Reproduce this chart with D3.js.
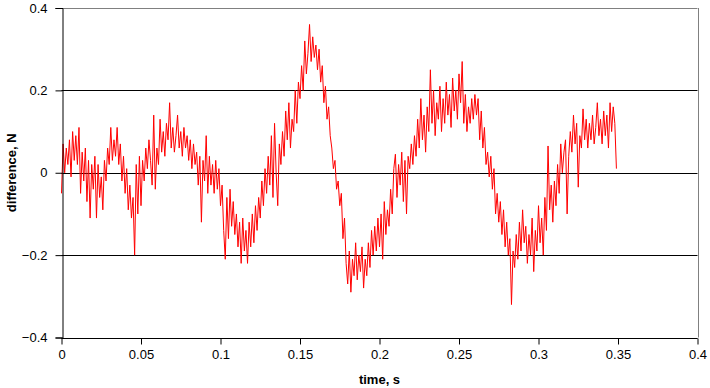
<!DOCTYPE html>
<html>
<head>
<meta charset="utf-8">
<script src="https://cdn.jsdelivr.net/npm/d3@7"></script>
<style>
  body { margin: 0; background: #fff; }
  text { font-family: "Liberation Sans", Arial, sans-serif; }
</style>
</head>
<body>
<div id="chart"></div>
<script>
const sampleStep = 0.001;
const diffValues = [
  -0.05, 0.07, 0.00, 0.06, 0.02, 0.08, -0.01, 0.10, 0.03, 0.09,
  0.02, 0.11, -0.05, 0.05, -0.02, 0.06, -0.07, 0.03, -0.11, 0.02,
  -0.04, 0.04, -0.11, 0.02, -0.06, -0.01, -0.09, 0.03, -0.02, 0.06,
  0.02, 0.11, 0.03, 0.08, 0.04, 0.11, 0.02, 0.07, -0.02, 0.04,
  -0.05, 0.01, -0.09, -0.03, -0.11, -0.06, -0.20, 0.02, -0.10, 0.04,
  -0.08, 0.03, -0.02, 0.06, 0.01, 0.08, 0.03, -0.03, 0.14, -0.04,
  0.06, 0.02, 0.13, 0.05, 0.10, 0.04, 0.12, 0.08, 0.17, 0.06,
  0.11, 0.05, 0.09, 0.14, 0.06, 0.10, 0.04, 0.11, 0.06, 0.09,
  0.03, 0.08, 0.01, 0.07, 0.02, 0.05, -0.03, 0.04, -0.12, 0.03,
  -0.02, 0.09, -0.05, 0.04, -0.03, 0.02, -0.05, 0.03, -0.04, 0.01,
  -0.08, -0.03, -0.14, -0.21, -0.06, -0.16, -0.04, -0.13, -0.07, -0.15,
  -0.10, -0.18, -0.12, -0.22, -0.11, -0.19, -0.14, -0.22, -0.12, -0.18,
  -0.10, -0.17, -0.08, -0.14, -0.06, -0.11, -0.02, -0.08, 0.01, -0.05,
  0.04, -0.03, 0.09, -0.06, 0.12, 0.00, -0.08, 0.07, 0.02, 0.10,
  0.04, 0.15, 0.08, 0.17, 0.06, 0.13, 0.10, 0.20, 0.12, 0.22,
  0.18, 0.26, 0.20, 0.32, 0.24, 0.29, 0.36, 0.27, 0.33, 0.28,
  0.31, 0.25, 0.30, 0.22, 0.26, 0.17, 0.21, 0.13, 0.16, 0.09,
  0.06, 0.01, 0.03, -0.04, -0.02, -0.08, -0.05, -0.16, -0.11, -0.22,
  -0.27, -0.19, -0.29, -0.21, -0.25, -0.17, -0.26, -0.20, -0.24, -0.18,
  -0.28, -0.21, -0.25, -0.17, -0.23, -0.14, -0.20, -0.13, -0.19, -0.11,
  -0.18, -0.10, -0.21, -0.07, -0.15, -0.09, -0.13, -0.04, -0.10, 0.01,
  0.045, -0.06, 0.02, -0.03, 0.05, -0.07, 0.03, -0.10, 0.04, 0.01,
  0.07, 0.02, 0.09, 0.04, 0.13, 0.06, 0.18, 0.08, 0.14, 0.05,
  0.16, 0.10, 0.25, 0.12, 0.20, 0.09, 0.17, 0.13, 0.21, 0.10,
  0.18, 0.12, 0.22, 0.14, 0.19, 0.11, 0.23, 0.15, 0.20, 0.13,
  0.24, 0.17, 0.27, 0.12, 0.19, 0.10, 0.16, 0.12, 0.18, 0.13,
  0.19, 0.14, 0.18, 0.08, 0.15, 0.06, 0.11, 0.02, 0.05, -0.01,
  0.04, -0.04, 0.01, -0.10, -0.05, -0.12, -0.07, -0.15, -0.09, -0.18,
  -0.12, -0.20, -0.16, -0.32, -0.19, -0.23, -0.15, -0.21, -0.12, -0.19,
  -0.09, -0.17, -0.13, -0.22, -0.15, -0.20, -0.11, -0.24, -0.14, -0.19,
  -0.08, -0.17, -0.11, -0.20, -0.06, -0.14, 0.065, -0.09, -0.03, -0.12,
  -0.02, -0.08, 0.02, -0.05, 0.07, 0.00, 0.05, 0.08, -0.10, 0.04,
  0.10, 0.05, 0.14, 0.07, 0.12, -0.035, 0.09, 0.06, 0.155, 0.08,
  0.13, 0.06, 0.12, 0.08, 0.14, 0.07, 0.11, 0.17, 0.09, 0.13,
  0.07, 0.15, 0.09, 0.14, 0.06, 0.17, 0.10, 0.16, 0.12, 0.01
];

const xTicks = [0, 0.05, 0.1, 0.15, 0.2, 0.25, 0.3, 0.35, 0.4];
const yTicks = [-0.4, -0.2, 0, 0.2, 0.4];
const xTitle = 'time, s';
const yTitle = 'difference, N';

const width = 710, height = 388;
const margin = { top: 8, right: 12.5, bottom: 50.5, left: 61.5 };

const svg = d3.select('#chart').append('svg')
    .attr('width', width)
    .attr('height', height);

const x = d3.scaleLinear().domain([0, 0.4]).range([margin.left, width - margin.right]);
const y = d3.scaleLinear().domain([-0.4, 0.4]).range([height - margin.bottom, margin.top]);

// Horizontal grid lines
svg.append('g')
    .selectAll('line')
    .data(yTicks)
    .enter().append('line')
    .attr('x1', margin.left)
    .attr('x2', width - margin.right)
    .attr('y1', d => Math.round(y(d)) + 0.5)
    .attr('y2', d => Math.round(y(d)) + 0.5)
    .attr('stroke', d => (d === 0.4 || d === -0.4) ? '#808080' : '#000')
    .attr('stroke-width', 1);

// Right border of plot area
svg.append('line')
    .attr('x1', Math.round(x(0.4)) + 0.5)
    .attr('x2', Math.round(x(0.4)) + 0.5)
    .attr('y1', y(0.4))
    .attr('y2', y(-0.4))
    .attr('stroke', '#808080');

// Data line
const data = diffValues.map((v, i) => ({ t: i * sampleStep, v: v }));
const line = d3.line()
    .x(d => x(d.t))
    .y(d => y(d.v));

svg.append('path')
    .datum(data)
    .attr('fill', 'none')
    .attr('stroke', '#ff0000')
    .attr('stroke-width', 1)
    .attr('d', line);

// Axes
const xAxis = svg.append('g')
    .attr('transform', `translate(0,${Math.round(y(-0.4)) + 0.5})`)
    .call(d3.axisBottom(x).tickValues(xTicks).tickFormat(d => d3.format('')(d)).tickSize(6).tickPadding(5));

const yAxis = svg.append('g')
    .attr('transform', `translate(${Math.round(x(0)) + 0.5},0)`)
    .call(d3.axisLeft(y).tickValues(yTicks).tickFormat(d => d3.format('')(d)).tickSize(7).tickPadding(8));

[xAxis, yAxis].forEach(a => {
    a.select('.domain').attr('stroke', '#000');
    a.selectAll('.tick line').attr('stroke', '#000');
    a.selectAll('text')
        .attr('fill', '#000')
        .style('font-size', '13px')
        .style('font-family', '"Liberation Sans", Arial, sans-serif');
});
xAxis.select('.domain').attr('d', `M${x(0)},0H${x(0.4)}`);

// Axis titles
svg.append('text')
    .attr('x', (x(0) + x(0.4)) / 2)
    .attr('y', 384)
    .attr('text-anchor', 'middle')
    .attr('font-size', '13px')
    .attr('font-weight', 'bold')
    .text(xTitle);

svg.append('text')
    .attr('transform', `translate(16,${(y(0.4) + y(-0.4)) / 2}) rotate(-90)`)
    .attr('text-anchor', 'middle')
    .attr('font-size', '13px')
    .attr('font-weight', 'bold')
    .text(yTitle);
</script>
</body>
</html>
